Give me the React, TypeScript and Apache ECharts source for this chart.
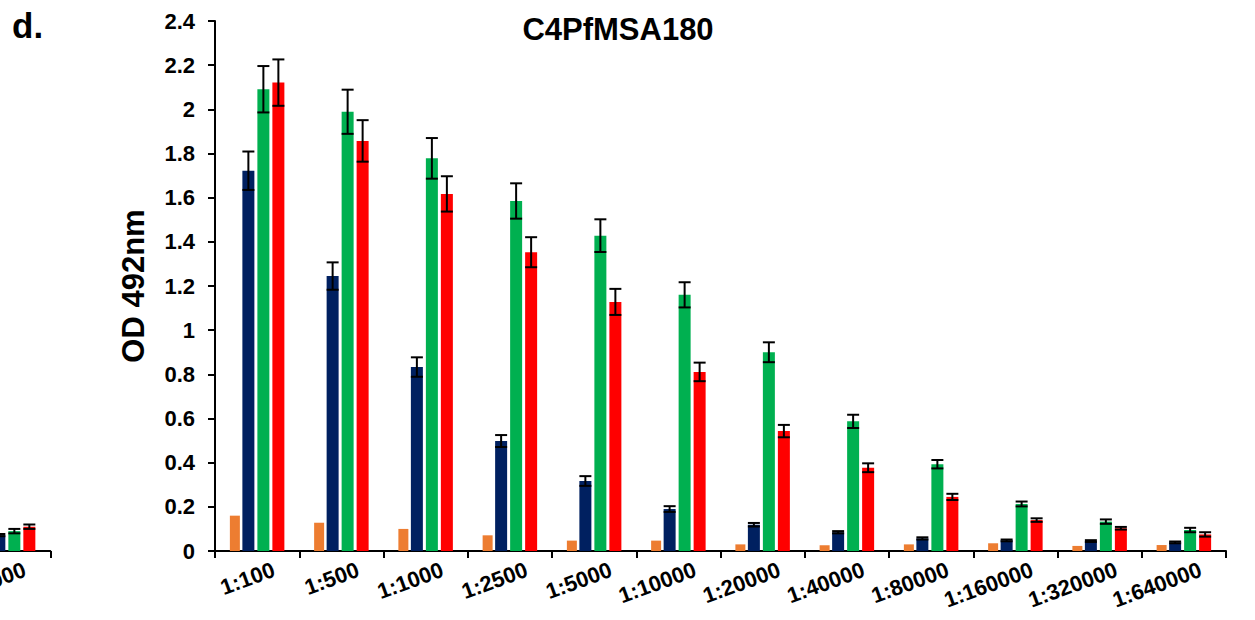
import React, { useEffect, useRef } from 'react';
import * as echarts from 'echarts';

const categories = ['1:100', '1:500', '1:1000', '1:2500', '1:5000', '1:10000', '1:20000', '1:40000', '1:80000', '1:160000', '1:320000', '1:640000'];
const orangeValues = [0.16, 0.128, 0.1, 0.071, 0.047, 0.047, 0.03, 0.026, 0.03, 0.035, 0.023, 0.027];
const navyValues = [1.722, 1.245, 0.833, 0.498, 0.317, 0.19, 0.119, 0.085, 0.057, 0.048, 0.045, 0.039];
const navyErrors = [0.087, 0.062, 0.044, 0.027, 0.022, 0.013, 0.008, 0.005, 0.005, 0.004, 0.004, 0.004];
const greenValues = [2.091, 1.989, 1.778, 1.585, 1.428, 1.16, 0.9, 0.587, 0.393, 0.213, 0.133, 0.095];
const greenErrors = [0.105, 0.1, 0.092, 0.08, 0.074, 0.057, 0.045, 0.03, 0.019, 0.011, 0.01, 0.01];
const redValues = [2.121, 1.857, 1.617, 1.353, 1.128, 0.811, 0.543, 0.377, 0.245, 0.14, 0.103, 0.075];
const redErrors = [0.105, 0.094, 0.08, 0.068, 0.059, 0.042, 0.028, 0.02, 0.014, 0.008, 0.006, 0.01];

// fragment of the neighbouring panel (cut off at the left edge)
const prevCategory = '1:640000';
const prevOrange = [0.03];
const prevNavy = [0.072];
const prevNavyErr = [0.005];
const prevGreen = [0.09];
const prevGreenErr = [0.01];
const prevRed = [0.11];
const prevRedErr = [0.01];

const yTicks = { min: 0, max: 2.4, interval: 0.2 };

const COLORS = ['#ED7D31', '#002060', '#00B050', '#FF0000'];
const FONT = '"Liberation Sans", Arial, Helvetica, sans-serif';
const BAR_WIDTHS = [10, 12, 12, 12];
const GAP_RATIO = 0.25;

function barCenters(): number[] {
  let total = 0;
  BAR_WIDTHS.forEach((w) => { total += w * (1 + GAP_RATIO); });
  total -= BAR_WIDTHS[BAR_WIDTHS.length - 1] * GAP_RATIO;
  let off = -total / 2;
  const c: number[] = [];
  BAR_WIDTHS.forEach((w) => { c.push(off + w / 2); off += w * (1 + GAP_RATIO); });
  return c;
}

export default function App() {
  const ref = useRef<HTMLDivElement>(null);
  useEffect(() => {
    const chart = echarts.init(ref.current!, null, { renderer: 'svg' });
    const centers = barCenters();

    const errData = (xs: number[], vals: number[][], errs: number[][]) => {
      const out: number[][] = [];
      vals.forEach((arr, s) => {
        arr.forEach((v, i) => out.push([xs[i], s + 1, v, errs[s][i]]));
      });
      return out;
    };

    const renderErr = (params: any, api: any) => {
      const cx = api.value(0);
      const si = api.value(1);
      const v = api.value(2);
      const e = api.value(3);
      const base = api.coord([cx, 0]);
      const x = base[0] + centers[si];
      const yTop = api.coord([cx, v + e])[1];
      const yBot = api.coord([cx, v - e])[1];
      const hw = 6;
      const st = { stroke: '#000', lineWidth: 2 };
      return {
        type: 'group',
        children: [
          { type: 'line', shape: { x1: x, y1: yTop, x2: x, y2: yBot }, style: st },
          { type: 'line', shape: { x1: x - hw, y1: yTop, x2: x + hw, y2: yTop }, style: st },
          { type: 'line', shape: { x1: x - hw, y1: yBot, x2: x + hw, y2: yBot }, style: st },
        ],
      };
    };

    const labelStyle = {
      interval: 0,
      rotate: 20,
      margin: 24,
      padding: [0, -18, 0, 0],
      fontSize: 22,
      fontWeight: 'bold',
      color: '#000',
      fontFamily: FONT,
    };

    const barSeries = (name: string, data: any[], idx: number, axis: number) => ({
      name,
      type: 'bar',
      xAxisIndex: axis,
      yAxisIndex: axis,
      data,
      barWidth: BAR_WIDTHS[idx],
      barGap: '25%',
      itemStyle: { color: COLORS[idx] },
      z: 2,
    });

    const prevX = [0.5];
    const toPairs = (arr: number[]) => arr.map((v, i) => [prevX[i], v]);

    chart.setOption({
      animation: false,
      backgroundColor: '#fff',
      title: {
        text: 'C4PfMSA180',
        left: 613,
        top: 9,
        textAlign: 'center',
        textStyle: { fontSize: 31, fontWeight: 'bold', color: '#000', fontFamily: FONT },
      },
      graphic: [
        {
          type: 'text',
          left: 12,
          top: 8,
          style: { text: 'd.', font: `bold 35px ${FONT}`, fill: '#000' },
        },
      ],
      grid: [
        { left: 215, right: 29, top: 21, bottom: 69, outerBoundsMode: 'none' },
        { left: 0, width: 50.25, top: 21, bottom: 69, outerBoundsMode: 'none' },
      ],
      xAxis: [
        {
          type: 'category',
          gridIndex: 0,
          data: categories,
          axisLine: { show: true, lineStyle: { color: '#000', width: 2 } },
          axisTick: { show: true, length: 7, lineStyle: { color: '#000', width: 2 }, interval: 0 },
          axisLabel: labelStyle,
          splitLine: { show: false },
        },
        {
          type: 'value',
          gridIndex: 1,
          min: 0.404,
          max: 1,
          axisLine: { show: true, lineStyle: { color: '#000', width: 2 } },
          axisTick: { show: true, length: 7, lineStyle: { color: '#000', width: 2 }, customValues: [1] },
          axisLabel: { ...labelStyle, customValues: [0.5], formatter: () => prevCategory, showMinLabel: true, showMaxLabel: true },
          splitLine: { show: false },
        },
      ],
      yAxis: [
        {
          type: 'value',
          gridIndex: 0,
          min: yTicks.min,
          max: yTicks.max,
          interval: yTicks.interval,
          name: 'OD 492nm',
          nameLocation: 'middle',
          nameGap: 66,
          nameTextStyle: { fontSize: 31, fontWeight: 'bold', color: '#000', fontFamily: FONT },
          axisLine: { show: true, lineStyle: { color: '#000', width: 2 } },
          axisTick: { show: true, length: 7, lineStyle: { color: '#000', width: 2 } },
          axisLabel: { fontSize: 22, fontWeight: 'bold', color: '#000', margin: 20, fontFamily: FONT },
          splitLine: { show: false },
        },
        {
          type: 'value',
          gridIndex: 1,
          min: yTicks.min,
          max: yTicks.max,
          interval: yTicks.interval,
          show: false,
          splitLine: { show: false },
        },
      ],
      series: [
        barSeries('orange', orangeValues, 0, 0),
        barSeries('navy', navyValues, 1, 0),
        barSeries('green', greenValues, 2, 0),
        barSeries('red', redValues, 3, 0),
        {
          type: 'custom',
          xAxisIndex: 0,
          yAxisIndex: 0,
          renderItem: renderErr,
          encode: { x: 0, y: 2 },
          data: errData(categories.map((_, i) => i), [navyValues, greenValues, redValues], [navyErrors, greenErrors, redErrors]),
          z: 5,
        },
        barSeries('orange-prev', toPairs(prevOrange), 0, 1),
        barSeries('navy-prev', toPairs(prevNavy), 1, 1),
        barSeries('green-prev', toPairs(prevGreen), 2, 1),
        barSeries('red-prev', toPairs(prevRed), 3, 1),
        {
          type: 'custom',
          xAxisIndex: 1,
          yAxisIndex: 1,
          renderItem: renderErr,
          encode: { x: 0, y: 2 },
          data: errData(prevX, [prevNavy, prevGreen, prevRed], [prevNavyErr, prevGreenErr, prevRedErr]),
          z: 5,
        },
      ],
    });
    return () => chart.dispose();
  }, []);

  return (
    <div
      ref={ref}
      style={{ position: 'fixed', left: 0, top: 0, width: 1255, height: 620, background: '#fff' }}
    />
  );
}
